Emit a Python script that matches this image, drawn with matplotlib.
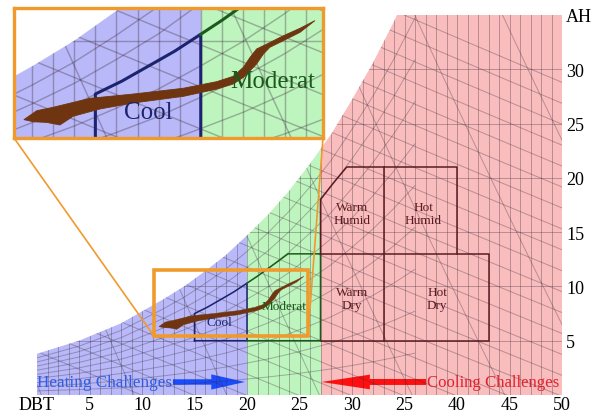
import numpy as np
import matplotlib
matplotlib.use("Agg")
import matplotlib.pyplot as plt
from matplotlib.patches import Polygon, Rectangle, FancyArrow, ConnectionPatch
from matplotlib.collections import LineCollection

plt.rcParams['font.family'] = ['Liberation Serif', 'DejaVu Serif']

# saturation line: dry bulb (C) vs absolute humidity (g/kg)
sat_dbt = [0, 2, 4, 6, 8, 10, 12, 14, 16, 18, 20, 22, 24, 26, 28, 30, 32, 34, 36]
sat_ah = [3.8, 4.4, 5.0, 5.8, 6.6, 7.7, 8.8, 10.0, 11.4, 12.9, 14.7, 16.6, 18.8,
          21.3, 24.0, 27.2, 30.6, 34.4, 38.6]

# climate zones along the dry bulb axis
zone_edges = [0, 20, 27, 50]
zone_colors = ['#b9b9f9', '#bef4be', '#f9bdbd']

# chart grid levels
dbt_lines = list(range(1, 50))
ah_lines = [5, 10, 15, 20, 25, 30]
rh_levels = [10, 20, 30, 40, 50, 60, 70, 80, 90]
enthalpy_levels = list(range(10, 130, 5))
volume_levels = [0.775, 0.8, 0.825, 0.85, 0.875, 0.9, 0.925, 0.95]

# comfort boxes
cool_x = [15, 15, 16.25, 17.5, 18.75, 20, 20, 15]
cool_y = [5, 7.5, 8.1, 8.8, 9.5, 10.3, 5, 5]
moderate_x = [20, 21, 22, 23, 23.9, 27, 27, 20]
moderate_y = [10.3, 10.95, 11.65, 12.35, 13, 13, 5, 5]
warm_x = [27, 27, 28.2, 29.5, 40, 40]
warm_y = [13, 18, 19.5, 21, 21, 13]
dry_x = [27, 43, 43, 27]
dry_y = [13, 13, 5, 5]
split_x = [33, 33]
split_y = [5, 21]

# measured comfort cloud outline (upper edge left->right, lower edge back)
smear_dbt = [11.61, 12.22, 13.00, 14.75, 16.80, 19.17, 20.76, 21.54, 22.02, 22.34,
             22.65, 23.13, 23.92, 24.71, 25.42,
             24.71, 23.92, 23.28, 22.97, 22.65, 22.34, 22.02, 21.54, 20.76, 19.17,
             16.80, 15.22, 13.95, 13.32, 12.69, 12.06]
smear_ah = [6.30, 6.72, 6.88, 7.30, 7.50, 7.77, 8.08, 8.33, 8.75, 9.22,
            9.61, 9.84, 10.23, 10.58, 10.94,
            10.39, 10.00, 9.69, 9.37, 8.91, 8.59, 8.28, 7.97, 7.73, 7.39,
            7.08, 6.80, 6.46, 6.05, 6.17, 6.20]

x_ticks = [0, 5, 10, 15, 20, 25, 30, 35, 40, 45, 50]
x_labels = ['DBT', '5', '10', '15', '20', '25', '30', '25', '40', '45', '50']
y_ticks = [5, 10, 15, 20, 25, 30, 35]
y_labels = ['5', '10', '15', '20', '25', '30', 'AH']

zoom_x = (11.14, 25.8)
zoom_y = (5.44, 11.53)

navy = '#1c2470'
dgreen = '#1b5a1b'
maroon = '#5a1a22'
orange = '#f09a2c'
brown = '#6e3510'


def chart(ax, k, kg):
    region = Polygon(np.column_stack([[0] + sat_dbt + [50, 50],
                                      [0] + sat_ah + [sat_ah[-1], 0]]),
                     transform=ax.transData)
    for x0, x1, c in zip(zone_edges[:-1], zone_edges[1:], zone_colors):
        r = ax.add_patch(Rectangle((x0, 0), x1 - x0, 40, fc=c, lw=0))
        r.set_clip_path(region)

    segs = []
    for t in dbt_lines:
        segs.append([(t, 0), (t, 40)])
    for w in ah_lines:
        segs.append([(0, w), (50, w)])
    for rh in rh_levels:
        segs.append(np.column_stack([sat_dbt, np.array(sat_ah) * rh / 100]))
    t = np.linspace(-5, 55, 61)
    for h in enthalpy_levels:
        segs.append(np.column_stack([t, (h - 1.006 * t) / (2.501 + 0.00186 * t)]))
    w = np.linspace(0, 45, 46)
    for v in volume_levels:
        segs.append(np.column_stack([v * 101.325 / (0.287042 * (1 + 1.6078 * w / 1000)) - 273.15, w]))
    lc = LineCollection(segs, colors='#3a2a3a', linewidths=0.7 * kg, alpha=0.33)
    ax.add_collection(lc)
    lc.set_clip_path(region)

    ax.plot(cool_x, cool_y, color=navy, lw=1.1 * k)
    ax.plot(moderate_x, moderate_y, color=dgreen, lw=1.1 * k)
    ax.plot(warm_x, warm_y, color=maroon, lw=1.1 * k)
    ax.plot(dry_x, dry_y, color=maroon, lw=1.1 * k)
    ax.plot(split_x, split_y, color=maroon, lw=1.1 * k)

    ax.fill(smear_dbt, smear_ah, color=brown, lw=0.3 * k, ec=brown, zorder=5)


fig = plt.figure(figsize=(5.93, 4.14), dpi=100)
ax = fig.add_axes([37 / 593, 18 / 414, 525 / 593, 380 / 414])
chart(ax, 1, 1)
ax.set_xlim(0, 50)
ax.set_ylim(0, 35)
for s in ax.spines.values():
    s.set_visible(False)
ax.set_xticks(x_ticks)
ax.set_xticklabels(x_labels, fontsize=13)
ax.yaxis.tick_right()
ax.set_yticks(y_ticks)
ax.set_yticklabels(y_labels, fontsize=13)
ax.tick_params(length=0, pad=1)
ax.tick_params(axis='y', pad=3)

ax.text(17.4, 6.7, 'Cool', color=navy, fontsize=9.5, ha='center', va='center', zorder=6)
ax.text(21.4, 8.2, 'Moderat', color=dgreen, fontsize=9.5, ha='left', va='center', zorder=6)
for x, y, s in [(30, 16.75, 'Warm\nHumid'), (36.8, 16.75, 'Hot\nHumid'),
                (30, 8.9, 'Warm\nDry'), (38.1, 8.9, 'Hot\nDry')]:
    ax.text(x, y, s, color=maroon, fontsize=9.5, ha='center', va='center',
            linespacing=1.1)

ax.text(0, 1.2, 'Heating Challenges', color='#2f5ce0', fontsize=12.3,
        ha='left', va='center')
ax.add_patch(FancyArrow(12.95, 1.2, 6.85, 0, width=0.5, head_width=1.4,
                        head_length=3.2, length_includes_head=True,
                        color='#1a4cff', lw=0))
ax.text(37.1, 1.2, 'Cooling Challenges', color='#e3202c', fontsize=12.1,
        ha='left', va='center')
ax.add_patch(FancyArrow(37.05, 1.2, -9.95, 0, width=0.55, head_width=1.35,
                        head_length=4.6, length_includes_head=True,
                        color='#ff1010', lw=0))

ax.add_patch(Rectangle((zoom_x[0], zoom_y[0]), zoom_x[1] - zoom_x[0],
                       zoom_y[1] - zoom_y[0], fill=False, ec=orange, lw=2.6,
                       zorder=8))

# magnified view of the comfort cloud
ins = fig.add_axes([14 / 593, 275 / 414, 309 / 593, 130 / 414])
chart(ins, 2, 1.5)
ins.set_xlim(*zoom_x)
ins.set_ylim(*zoom_y)
ins.set_xticks([])
ins.set_yticks([])
for s in ins.spines.values():
    s.set_color(orange)
    s.set_linewidth(2.4)
ins.text(17.5, 6.66, 'Cool', color=navy, fontsize=18, ha='center', va='center', zorder=6)
ins.text(21.4, 8.11, 'Moderat', color=dgreen, fontsize=18, ha='left', va='center',
         zorder=6, clip_on=True)

for xa, xb in [((0, 0), (zoom_x[0], zoom_y[0])), ((1, 0), (zoom_x[1], zoom_y[0]))]:
    cp = ConnectionPatch(xyA=xa, coordsA=ins.transAxes, xyB=xb, coordsB=ax.transData,
                         color=orange, lw=1.2)
    fig.add_artist(cp)

fig.savefig('out.png', dpi=100)
